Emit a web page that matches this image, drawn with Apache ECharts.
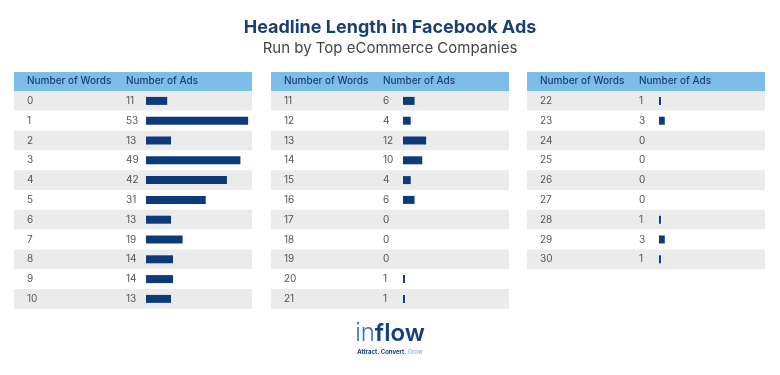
<!DOCTYPE html>
<html>
<head>
<meta charset="utf-8">
<script src="https://cdn.jsdelivr.net/npm/echarts@6/dist/echarts.min.js"></script>
<style>
  html, body { margin: 0; padding: 0; background: #fff; }
  #chart { width: 780px; height: 375px; }
</style>
</head>
<body>
<div id="chart"></div>
<script>
// table data, split in three panels like the original
const words1 = ['0', '1', '2', '3', '4', '5', '6', '7', '8', '9', '10'];
const ads1 = [11, 53, 13, 49, 42, 31, 13, 19, 14, 14, 13];
const words2 = ['11', '12', '13', '14', '15', '16', '17', '18', '19', '20', '21'];
const ads2 = [6, 4, 12, 10, 4, 6, 0, 0, 0, 1, 1];
const words3 = ['22', '23', '24', '25', '26', '27', '28', '29', '30'];
const ads3 = [1, 3, 0, 0, 0, 0, 1, 3, 1];
const headers = ['Number of Words', 'Number of Ads'];

const FONT = 'Inter, "Noto Sans", sans-serif';
const NAVY = '#0d3b7a';
const ROW_H = 19.8;
const PANEL_W = 238;
const TOP = 91;

const panels = [
  { left: 14, words: words1, ads: ads1 },
  { left: 271, words: words2, ads: ads2 },
  { left: 527, words: words3, ads: ads3 }
];

const grid = [], xAxis = [], yAxis = [], series = [], graphic = [];

panels.forEach((p, i) => {
  const h = p.words.length * ROW_H;
  // table grid (row stripes + text)
  grid.push({ left: p.left, top: TOP, width: PANEL_W, height: h });
  // bar grid
  grid.push({ left: p.left + 132, top: TOP, width: 106, height: h });

  xAxis.push({ gridIndex: i * 2, type: 'value', show: false, min: 0, max: 1 });
  xAxis.push({ gridIndex: i * 2 + 1, type: 'value', show: false, min: 0, max: 55 });

  const ads = p.ads;
  yAxis.push({
    gridIndex: i * 2,
    type: 'category',
    inverse: true,
    data: p.words,
    axisLine: { show: false },
    axisTick: { show: false },
    splitLine: { show: false },
    splitArea: { show: true, areaStyle: { color: ['#ebebeb', '#ffffff'] } },
    axisLabel: {
      inside: true,
      margin: 13,
      formatter: (v, idx) => '{w|' + v + '}{a|' + ads[idx] + '}',
      rich: {
        w: { width: 99, align: 'left', fontSize: 10, color: '#555', fontFamily: FONT },
        a: { align: 'left', fontSize: 10, color: '#555', fontFamily: FONT }
      }
    }
  });
  yAxis.push({
    gridIndex: i * 2 + 1,
    type: 'category',
    inverse: true,
    data: p.words,
    show: false
  });

  series.push({
    type: 'bar',
    xAxisIndex: i * 2 + 1,
    yAxisIndex: i * 2 + 1,
    data: ads,
    barWidth: 8,
    itemStyle: { color: NAVY },
    silent: true
  });

  // header row
  graphic.push({
    type: 'rect', left: p.left, top: 72,
    shape: { width: PANEL_W, height: 19 },
    style: { fill: '#7dbde9' }
  });
  graphic.push({
    type: 'text', left: p.left + 13, top: 76,
    style: { text: headers[0], fill: '#1d3f75', font: '500 10px ' + FONT }
  });
  graphic.push({
    type: 'text', left: p.left + 112, top: 76,
    style: { text: headers[1], fill: '#1d3f75', font: '500 10px ' + FONT }
  });
});

// logo
graphic.push({
  type: 'text', left: 'center', top: 322,
  style: {
    text: '{a|in}{b|flow}',
    rich: {
      a: { fontSize: 24, fontFamily: FONT, fontWeight: 300, fill: '#2f70c8' },
      b: { fontSize: 24, fontFamily: FONT, fontWeight: 600, fill: '#143f7e' }
    }
  }
});
graphic.push({
  type: 'text', left: 'center', top: 349,
  style: {
    text: '{a|Attract. Convert. }{b|Grow}',
    rich: {
      a: { fontSize: 6, fontFamily: FONT, fontWeight: 'bold', fill: '#143f7e' },
      b: { fontSize: 6, fontFamily: FONT, fill: '#6fa8e0' }
    }
  }
});

const chart = echarts.init(document.getElementById('chart'));
chart.setOption({
  animation: false,
  backgroundColor: '#fff',
  title: {
    left: 'center',
    top: 14,
    text: 'Headline Length in Facebook Ads',
    subtext: 'Run by Top eCommerce Companies',
    itemGap: 4,
    textStyle: { fontSize: 18, fontWeight: 'bold', color: '#1c3f73', fontFamily: FONT },
    subtextStyle: { fontSize: 15, color: '#444', fontFamily: FONT }
  },
  grid, xAxis, yAxis, series, graphic
});
</script>
</body>
</html>
